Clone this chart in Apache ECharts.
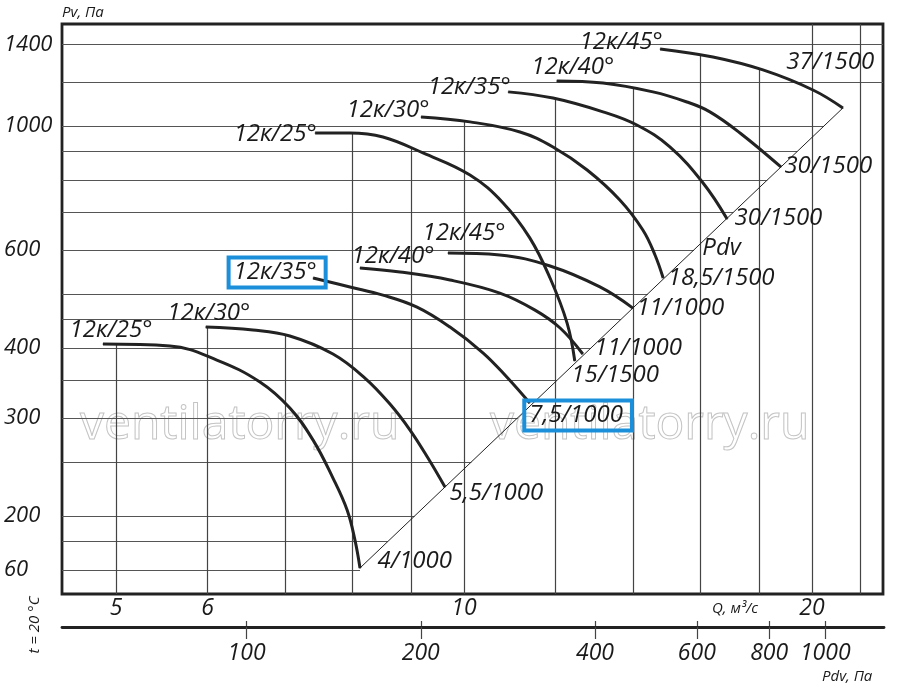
<!DOCTYPE html>
<html><head><meta charset="utf-8">
<script src="https://cdn.jsdelivr.net/npm/echarts@6/dist/echarts.min.js"></script>
<style>html,body{margin:0;padding:0;background:#fff}#c{width:900px;height:688px}</style>
</head><body><div id="c"></div>
<script>
// ---- axis ranges and ticks ----
const qMin = 4.49, qMax = 23.04;          // Q, m3/s (log axis)
const pMin = 145, pMax = 1523;            // Pv, Pa (log axis)
const pdvCoef = 2.38;                     // Pdv = coef * Q^2
const qTicks = [5, 6, 10, 20];
const yTickValues = [160, 200, 300, 400, 600, 1000, 1400];
const yTickTexts = ['60', '200', '300', '400', '600', '1000', '1400'];
const pdvTicks = [100, 200, 400, 600, 800, 1000];
const hGrid = [160, 180, 200, 250, 300, 350, 400, 450, 500, 600, 700, 800, 900, 1000, 1200, 1400];
const vGrid = [5, 6, 7, 8, 9, 10, 12, 14, 16, 18, 20, 22];
const vGridFull = [20, 22];

// ---- curve names and motor labels ----
const curveNames = ['12к/25°', '12к/30°', '12к/35°', '12к/40°', '12к/45°',
                    '12к/25°', '12к/30°', '12к/35°', '12к/40°', '12к/45°'];
const motorLabels = ['4/1000', '5,5/1000', '7,5/1000', '11/1000', '11/1000',
                     '15/1500', '18,5/1500', '30/1500', '30/1500', '37/1500'];

// ---- curves [Q, Pv] ----
const c25small = [[4.872,406.7],[5.567,403.4],[6.112,380.7],[6.660,347.7],[7.069,312.3],[7.404,273.6],[7.703,233.9],[7.923,205.0],[8.048,181.1],[8.129,161.4]];
const c30small = [[5.979,436.2],[6.568,430.9],[7.069,420.4],[7.703,390.3],[8.209,353.5],[8.629,317.5],[8.981,285.2],[9.308,254.1],[9.629,225.4]];
const c35small = [[7.404,534.0],[7.968,514.7],[8.509,497.7],[9.107,473.6],[9.725,436.2],[10.39,391.9],[10.89,354.9],[11.40,318.8]];
const c40small = [[8.129,556.6],[8.804,547.4],[9.725,529.6],[10.74,501.8],[11.52,467.8],[12.11,434.5],[12.67,390.3]];
const c45small = [[9.686,592.1],[10.74,587.3],[11.87,561.2],[13.11,514.7],[14.00,471.7]];
const c25large = [[7.434,971.5],[7.968,971.5],[8.509,955.6],[9.216,894.7],[10.12,816.7],[10.81,727.9],[11.40,630.2],[11.87,534.0],[12.28,443.4],[12.47,379.1]];
const c30large = [[9.180,1038],[10.12,1017],[11.18,975.5],[11.94,917.1],[12.78,833.8],[13.64,736.9],[14.28,651.1],[14.63,587.3],[14.87,534.0]];
const c35large = [[10.92,1151],[11.94,1122],[13.19,1060],[14.11,1004],[15.07,917.1],[16.10,790.3],[16.89,681.3]];
const c40large = [[12.03,1204],[13.19,1194],[14.57,1151],[15.59,1104],[16.32,1060],[17.33,971.5],[18.80,844.3]];
const c45large = [[14.78,1374],[16.42,1329],[18.14,1260],[20.04,1160],[21.27,1077]];
const pdvLine = [[8.129,161.4],[21.27,1077]];

// ---- layout (label offsets in px) ----
const curves = [c25small, c30small, c35small, c40small, c45small, c25large, c30large, c35large, c40large, c45large];
const startPos = [[-33,-13],[-38,-13],[-84,-5],[-8,-11],[-25,-19],[-81,2],[-74,-6],[-80,-4],[-25,-13],[-80,-6]];
const endPos = [[18,-6],[5,7],[-5,13],[12,-5],[4,1],[-3,15],[5,1],[8,0],[4,0],[-56,-45]];
const boxed = [2];
const FONT = 'Open Sans';
const INK = '#1a1a1a';
const BLUE = '#1b8fd9';

function makeLabel(text, pos, isBoxed) {
  const l = { show: true, formatter: text, position: pos, align: 'left', verticalAlign: 'middle',
    fontFamily: FONT, fontStyle: 'italic', fontSize: 24, color: INK };
  if (isBoxed) { l.borderColor = BLUE; l.borderWidth = 4; l.padding = [3, 9, 3, 5]; }
  return l;
}
function interpLog(pts, q) {
  for (let i = 0; i < pts.length - 1; i++) {
    const a = pts[i], b = pts[i + 1];
    if (q >= a[0] && q <= b[0]) {
      const t = (Math.log10(q) - Math.log10(a[0])) / (Math.log10(b[0]) - Math.log10(a[0]));
      return Math.pow(10, Math.log10(a[1]) + t * (Math.log10(b[1]) - Math.log10(a[1])));
    }
  }
  return null;
}
function diagQ(p) {
  const a = pdvLine[0], b = pdvLine[1];
  if (p <= a[1]) return a[0];
  if (p >= b[1]) return qMax;
  const t = (Math.log10(p) - Math.log10(a[1])) / (Math.log10(b[1]) - Math.log10(a[1]));
  return Math.pow(10, Math.log10(a[0]) + t * (Math.log10(b[0]) - Math.log10(a[0])));
}

const hLines = hGrid.map(p => ({ coords: [[qMin, p], [diagQ(p), p]] }));
const vLines = vGrid.map(q => {
  let top = null;
  if (vGridFull.indexOf(q) < 0) {
    curves.forEach(c => { const v = interpLog(c, q); if (v != null && (top == null || v > top)) top = v; });
  }
  if (top == null) top = pMax;
  return { coords: [[q, pMin], [q, top]] };
});

const series = [
  { type: 'lines', coordinateSystem: 'cartesian2d', xAxisIndex: 0, yAxisIndex: 0, polyline: false, silent: true, z: 1,
    lineStyle: { color: '#555', width: 1.2, opacity: 1 }, data: hLines },
  { type: 'lines', coordinateSystem: 'cartesian2d', xAxisIndex: 0, yAxisIndex: 0, polyline: false, silent: true, z: 1,
    lineStyle: { color: '#444', width: 1.2, opacity: 1 }, data: vLines },
  { type: 'line', xAxisIndex: 0, yAxisIndex: 0, silent: true, z: 2, symbol: 'circle', symbolSize: 1, showSymbol: true,
    itemStyle: { color: '#222' }, lineStyle: { color: '#222', width: 1 }, label: { show: false },
    data: [ { value: pdvLine[0] },
            { value: pdvLine[1], label: { show: true, formatter: 'Pdv', position: [-140, 141], align: 'left', verticalAlign: 'middle',
              fontFamily: FONT, fontStyle: 'italic', fontSize: 24, color: INK } } ] }
];
curves.forEach((pts, i) => {
  const isB = boxed.indexOf(i) >= 0;
  const data = pts.map((p, j) => {
    const item = { value: p };
    if (j === 0) item.label = makeLabel(curveNames[i], startPos[i], isB);
    if (j === pts.length - 1) item.label = makeLabel(motorLabels[i], endPos[i], isB);
    return item;
  });
  series.push({ type: 'line', xAxisIndex: 0, yAxisIndex: 0, data, smooth: 0.4,
    symbol: 'circle', symbolSize: 1, showSymbol: true, silent: true, z: 3,
    itemStyle: { color: '#222' }, lineStyle: { color: '#222', width: 3 }, label: { show: false } });
});

const axisFont = { fontFamily: FONT, fontStyle: 'italic', color: INK };
const chart = echarts.init(document.getElementById('c'), null, { renderer: 'canvas' });
chart.setOption({
  animation: false,
  backgroundColor: '#fff',
  grid: [
    { left: 62, right: 17, top: 24, bottom: 94, show: true, borderColor: '#222', borderWidth: 2.8, containLabel: false },
    { left: 62, right: 16, top: 626, height: 1, containLabel: false }
  ],
  xAxis: [
    { type: 'log', gridIndex: 0, logBase: 10, min: qMin, max: qMax,
      axisLine: { show: false }, axisTick: { show: false }, splitLine: { show: false },
      axisLabel: Object.assign({ customValues: qTicks, margin: 3, fontSize: 23, formatter: v => String(Math.round(v)) }, axisFont) },
    { type: 'log', gridIndex: 1, position: 'bottom', logBase: 10, min: pdvCoef * qMin * qMin, max: pdvCoef * qMax * qMax,
      axisLine: { show: true, lineStyle: { color: '#222', width: 2.8 } },
      axisTick: { show: true, customValues: pdvTicks, length: 12, lineStyle: { color: '#444', width: 1.2 } },
      splitLine: { show: false },
      axisLabel: Object.assign({ customValues: pdvTicks, margin: 15, fontSize: 23, formatter: v => String(Math.round(v)) }, axisFont) },
    { type: 'log', gridIndex: 1, position: 'top', logBase: 10, min: pdvCoef * qMin * qMin, max: pdvCoef * qMax * qMax,
      axisLine: { show: false },
      axisTick: { show: true, customValues: pdvTicks, length: 5, lineStyle: { color: '#444', width: 1.2 } },
      splitLine: { show: false }, axisLabel: { show: false } }
  ],
  yAxis: [
    { type: 'log', gridIndex: 0, logBase: 10, min: pMin, max: pMax,
      axisLine: { show: false }, axisTick: { show: false }, splitLine: { show: false },
      axisLabel: Object.assign({ customValues: yTickValues, margin: 58, align: 'left', fontSize: 22,
        formatter: v => { let bi = 0; yTickValues.forEach((t, i) => { if (Math.abs(t - v) < Math.abs(yTickValues[bi] - v)) bi = i; }); return yTickTexts[bi]; } }, axisFont) },
    { type: 'value', gridIndex: 1, show: false }
  ],
  graphic: [
    { type: 'text', z: 1, silent: true, style: { text: 'ventilatorry.ru', x: 80, y: 425, verticalAlign: 'middle', font: '48px "Open Sans"', fill: 'rgba(255,255,255,0)', stroke: '#c4c4c4', lineWidth: 1 } },
    { type: 'text', z: 1, silent: true, style: { text: 'ventilatorry.ru', x: 490, y: 425, verticalAlign: 'middle', font: '48px "Open Sans"', fill: 'rgba(255,255,255,0)', stroke: '#c4c4c4', lineWidth: 1 } },
    { type: 'text', silent: true, style: { text: 'Pv, Па', x: 62, y: 13, verticalAlign: 'middle', font: 'italic 15px "Open Sans"', fill: INK } },
    { type: 'text', silent: true, style: { text: 'Q, м³/с', x: 712, y: 609, verticalAlign: 'middle', font: 'italic 15px "Open Sans"', fill: INK } },
    { type: 'text', silent: true, style: { text: 'Pdv, Па', x: 822, y: 677, verticalAlign: 'middle', font: 'italic 15px "Open Sans"', fill: INK } },
    { type: 'text', silent: true, x: 35, y: 625, rotation: Math.PI / 2, style: { text: 't = 20 °C', x: 0, y: 0, align: 'center', verticalAlign: 'middle', font: 'italic 15px "Open Sans"', fill: INK } }
  ],
  series
});
</script></body></html>
